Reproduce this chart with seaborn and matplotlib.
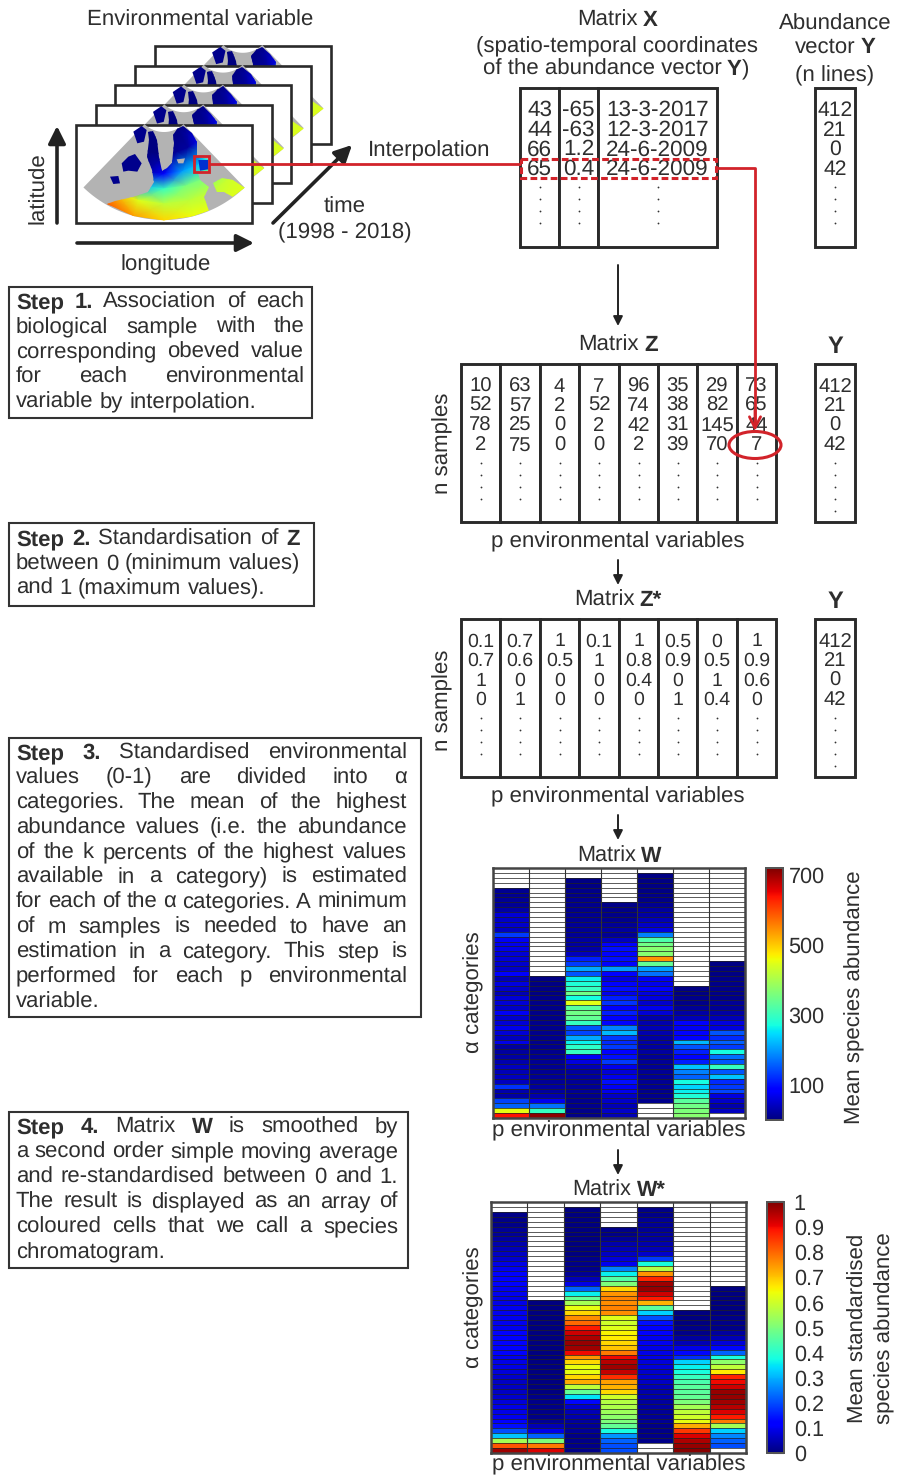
import matplotlib
matplotlib.use('Agg')
import matplotlib.pyplot as plt
from matplotlib.patches import Rectangle, Polygon, Ellipse
import seaborn as sns
import pandas as pd
import numpy as np

nan = np.nan

# Matrix W, one list per environmental variable, 51 categories top to bottom
w_col1 = [nan]*4 + [12, 12, 15, 15, 25, 55, 45, 50, 40, 130, 75, 70, 65, 55, 55, 50, 45, 80, 35, 60, 45, 35, 55, 55, 45, 75, 50,
                    55, 70, 55, 40, 65, 20, 20, 25, 30, 40, 35, 40, 40, 125, 30, 25, 135, 160, 450, 640]
w_col2 = [nan]*22 + [5, 5, 5, 5, 8, 8, 8, 8, 8, 10, 10, 10, 10, 10, 10, 10, 12, 12, 12, 12, 15, 15, 20, 20, 30, 70, 170, 300, 710]
w_col3 = [nan]*2 + [5, 5, 8, 8, 10, 10, 10, 12, 12, 15, 15, 15, 20, 20, 25, 40, 110, 130, 210, 150, 260, 280, 300, 350, 270,
                    450, 330, 350, 340, 300, 150, 140, 210, 260, 290, 300, 75, 60, 35, 20, 20, 15, 15, 15, 10, 10, 10, 8, 8]
w_col4 = [nan]*7 + [8, 8, 8, 10, 15, 20, 15, 40, 80, 100, 80, 100, 80, 200, 90, 60, 90, 100, 70, 110, 125, 85, 110, 85, 90,
                    180, 220, 130, 120, 130, 80, 100, 130, 70, 55, 70, 100, 75, 70, 45, 45, 35, 45, 35]
w_col5 = [nan] + [5, 5, 5, 5, 8, 8, 12, 20, 25, 35, 45, 60, 180, 320, 350, 370, 370, 540, 340, 200, 170, 75, 70, 80, 60, 60,
                  50, 70, 55, 30, 30, 35, 30, 25, 25, 20, 20, 15, 15, 15, 15, 15, 12, 12, 10, 10, 10] + [nan]*3
w_col6 = [nan]*24 + [5, 5, 8, 8, 15, 25, 35, 80, 75, 85, 80, 220, 150, 110, 90, 110, 230, 180, 160, 270, 240, 260, 280, 330, 350, 360, 370]
w_col7 = [nan]*19 + [5, 5, 5, 8, 8, 8, 8, 8, 15, 15, 25, 35, 60, 60, 150, 120, 160, 130, 270, 170, 150, 300, 150, 230,
                     120, 130, 140, 60, 45, 30, 40, nan]

# Matrix W*, smoothed and re-standardised
ws_col1 = [nan]*2 + [.01, .01, .01, .02, .02, .03, .04, .05, .06, .07, .09, .1, .11, .11, .11, .1, .1, .09, .09, .1, .1, .1, .1,
                     .1, .11, .11, .11, .11, .11, .1, .09, .09, .08, .07, .06, .06, .06, .07, .08, .09, .09, .1, .11, .14, .2, .32, .55, .82, .97]
ws_col2 = [nan]*20 + [.0, .0, .0, .0, .0, .0, .0, .0, .0, .0, .0, .0, .0, .0, .0, .0, .0, .0, .0, .01, .01, .01, .01, .01,
                      .02, .05, .09, .22, .5, .78, .92]
ws_col3 = [nan] + [.0, .0, .0, .0, .0, .0, .0, .0, .0, .0, .01, .01, .01, .02, .05, .09, .22, .36, .47, .55, .63, .68, .76, .8, .88,
                   .93, .96, .98, .97, .9, .75, .68, .63, .63, .68, .73, .58, .47, .35, .13, .07, .05, .04, .03, .02, .02, .01, .01, .01, .01]
ws_col4 = [nan]*5 + [.01, .01, .02, .04, .05, .06, .08, .1, .25, .36, .45, .5, .68, .75, .77, .76, .77, .76, .62, .6, .62, .65, .66, .68, .7,
                     .78, .9, .95, .97, .94, .86, .74, .72, .68, .6, .57, .56, .54, .52, .5, .47, .38, .27, .22, .2, .2]
ws_col5 = [nan] + [.01, .01, .02, .02, .02, .03, .03, .04, .05, .07, .18, .38, .57, .75, .87, .97, .98, .93, .88, .72, .46, .33, .2, .14, .12,
                   .11, .1, .1, .09, .09, .09, .08, .08, .07, .07, .06, .05, .04, .04, .03, .03, .02, .02, .02, .01, .01, .01, .01] + [nan]*2
ws_col6 = [nan]*22 + [.0, .0, .0, .01, .01, .03, .05, .09, .13, .17, .33, .36, .38, .42, .44, .46, .46, .47, .5, .55, .58, .6, .63, .73, .85,
                      .92, .96, .98, .99]
ws_col7 = [nan]*17 + [.0, .0, .0, .0, .0, .0, .01, .01, .01, .03, .05, .08, .13, .22, .38, .52, .58, .66, .87, .9, .93, .98, .98, .97, .95,
                      .92, .88, .78, .55, .33, .26, .22, .2, nan]

w_ticks = [100, 200, 300, 400, 500, 600, 700]
w_tick_labels = ['100', '', '300', '', '500', '', '700']
ws_ticks = [0, .1, .2, .3, .4, .5, .6, .7, .8, .9, 1]
ws_tick_labels = ['0', '0.1', '0.2', '0.3', '0.4', '0.5', '0.6', '0.7', '0.8', '0.9', '1']

# Number tables
x_rows = [['43', '-65', '13-3-2017'], ['44', '-63', '12-3-2017'], ['66', '1.2', '24-6-2009'], ['65', '0.4', '24-6-2009']]
y_values = ['412', '21', '0', '42']
z_rows = [['10', '63', '4', '7', '96', '35', '29', '73'],
          ['52', '57', '2', '52', '74', '38', '82', '65'],
          ['78', '25', '0', '2', '42', '31', '145', '44'],
          ['2', '75', '0', '0', '2', '39', '70', '7']]
zs_rows = [['0.1', '0.7', '1', '0.1', '1', '0.5', '0', '1'],
           ['0.7', '0.6', '0.5', '1', '0.8', '0.9', '0.5', '0.9'],
           ['1', '0', '0', '0', '0.4', '0', '1', '0.6'],
           ['0', '1', '0', '0', '0', '1', '0.4', '0']]

# Sea surface field of the little map (radius rows, angle columns)
map_radius = [28, 50, 70, 85, 100, 116]
map_angle = [-44, -29, -15, 0, 15, 29, 44]
map_field = [[.0, .0, .0, .0, .0, .0, .0],
             [.0, .0, .0, .0, .02, .03, .1],
             [.0, .0, .03, .12, .28, .32, .4],
             [.04, .12, .3, .42, .5, .5, .52],
             [.35, .7, .62, .58, .58, .58, .6],
             [.65, .82, .74, .68, .64, .62, .62]]
ocean_outline = [(320, 612), (345, 602), (400, 590), (445, 575), (462, 545), (455, 510), (442, 470), (448, 420), (445, 395),
                 (460, 392), (472, 420), (478, 470), (486, 512), (500, 505), (516, 490), (522, 430), (518, 405), (532, 388),
                 (550, 378), (575, 400), (592, 425), (590, 470), (625, 478), (628, 512), (595, 518), (600, 540), (628, 562),
                 (612, 592), (628, 632), (570, 652), (490, 662), (400, 648)]
med_outline = [(640, 550), (665, 535), (700, 540), (735, 565), (700, 592), (672, 575), (650, 575)]
bay_outline = [(365, 490), (385, 470), (405, 462), (425, 490), (412, 515), (385, 512), (370, 515)]
isle_outlines = [[(400, 395), (425, 378), (440, 390), (432, 425), (412, 430)], [(330, 530), (355, 528), (360, 550), (340, 552)]]
north_sea_outline = [(595, 480), (625, 480), (625, 508), (600, 512)]
iceland_outline = [(530, 478), (555, 475), (550, 490), (535, 490)]

step1 = ['*Step *1. Association of each', 'biological sample with the', 'corresponding obeved value',
         'for each environmental', 'variable by interpolation.']
step2 = ['*Step *2. Standardisation of *Z', 'between 0 (minimum values)', 'and 1 (maximum values).']
step3 = ['*Step *3. Standardised environmental', 'values (0-1) are divided into α', 'categories. The mean of the highest',
         'abundance values (i.e. the abundance', 'of the k percents of the highest values',
         'available in a category) is estimated', 'for each of the α categories. A minimum',
         'of m samples is needed to have an', 'estimation in a category. This step is',
         'performed for each p environmental', 'variable.']
step4 = ['*Step *4. Matrix *W is smoothed by', 'a second order simple moving average',
         'and re-standardised between 0 and 1.', 'The result is displayed as an array of',
         'coloured cells that we call a species', 'chromatogram.']

INK = '#2e2e2e'
RED = '#d2232a'
W, H = 909, 1475
FS = 16.05
STEP_FS = 15.9
BASE = 4.5  # centre of a line to its baseline, in pixels

sns.set_theme(style='white')
plt.rcParams['font.family'] = ['Liberation Sans', 'DejaVu Sans']
plt.rcParams['text.color'] = INK
plt.rcParams['text.hinting'] = 'no_hinting'

fig = plt.figure(figsize=(W / 100, H / 100), dpi=100)
pg = fig.add_axes([0, 0, 1, 1], zorder=5)
pg.set_xlim(0, W)
pg.set_ylim(H, 0)
pg.axis('off')
pg.patch.set_alpha(0)


def px_axes(x0, y0, x1, y1):
    return fig.add_axes([x0 / W, 1 - y1 / H, (x1 - x0) / W, (y1 - y0) / H])


def label(x, y, s, size=FS, **kw):
    kw.setdefault('ha', 'center')
    kw.setdefault('va', 'center')
    if kw.get('rotation') == 90:
        x += 1.5
    else:
        y += 1.5
    return pg.text(x, y, s, fontsize=size, color=INK, **kw)


def mixed(cx, y, parts, size=FS):
    # a centred line with bold pieces; numbers in parts are gaps in pixels
    rend = fig.canvas.get_renderer()
    items = []
    total = 0
    for p in parts:
        if isinstance(p, str):
            a = label(0, y + BASE, p.lstrip('*'), size=size, ha='left', va='baseline',
                      fontweight='bold' if p.startswith('*') else 'normal')
            wd = a.get_window_extent(rend).width
            items.append((a, wd))
            total += wd
        else:
            items.append((None, p))
            total += p
    x = cx - total / 2
    for a, wd in items:
        if a is not None:
            a.set_x(x)
        x += wd


def arrow(p0, p1, color='#222222', lw=1.4, scale=14, zorder=6, style='-|>'):
    pg.annotate('', xy=p1, xytext=p0, zorder=zorder,
                arrowprops=dict(arrowstyle=style, color=color, lw=lw, mutation_scale=scale, shrinkA=0, shrinkB=0))


def justified(lines, x0, x1, y0, step, size=STEP_FS):
    # place word by word, so each line reaches the right margin
    rend = fig.canvas.get_renderer()
    for n, line in enumerate(lines):
        words = line.split(' ')
        arts = []
        for w in words:
            bold = w.startswith('*')
            arts.append(label(0, y0 + n * step + BASE, w.lstrip('*'), size=size, ha='left', va='baseline',
                              fontweight='bold' if bold else 'normal'))
        widths = [a.get_window_extent(rend).width for a in arts]
        gap = (x1 - x0 - sum(widths)) / max(len(words) - 1, 1)
        if n == len(lines) - 1:
            gap = size * 0.4
        x = x0
        for a, wd in zip(arts, widths):
            a.set_x(x)
            x += wd + gap


def step_box(x0, y0, x1, y1):
    pg.add_patch(Rectangle((x0, y0), x1 - x0, y1 - y0, fc='white', ec='#333333', lw=1.5))


def number_table(edges, top, bottom, rows, ndots=4, size=FS):
    for a, b in zip(edges[:-1], edges[1:]):
        pg.add_patch(Rectangle((a, top), b - a, bottom - top, fc='white', ec='#2a2a2a', lw=2.1))
    for i, row in enumerate(rows):
        for j, s in enumerate(row):
            label((edges[j] + edges[j + 1]) / 2, top + 21 + i * 19.6, s, size=size)
    for j in range(len(edges) - 1):
        mid = (edges[j] + edges[j + 1]) / 2
        pg.plot([mid] * ndots, [top + 99 + k * 12 for k in range(ndots)], ls='none', marker='o', ms=1.3, mew=0, color='#333333')


def draw_map(dx, dy, z):
    left, top = 76 + dx, 125 + dy
    pg.add_patch(Rectangle((left, top), 176, 98, fc='white', ec='#2a2a2a', lw=1.9, zorder=z))
    cx, cy = 164 + dx, 104 + dy
    t = np.radians(np.linspace(-44, 44, 60))
    outer = np.c_[cx + 116 * np.sin(t), cy + 116 * np.cos(t)]
    inner = np.c_[cx + 28 * np.sin(t[::-1]), cy + 28 * np.cos(t[::-1])]
    pg.add_patch(Polygon(np.r_[outer, inner], fc='#b3b3b3', ec='none', zorder=z + .1))
    rr, aa = np.meshgrid(map_radius, np.radians(map_angle), indexing='ij')
    xx, yy = cx + rr * np.sin(aa), cy + rr * np.cos(aa)
    for outline in (ocean_outline, med_outline):
        clip = Polygon(np.array(outline) / 3 + [dx, dy], fc='none', ec='none', zorder=z + .1)
        pg.add_patch(clip)
        mesh = pg.pcolormesh(xx, yy, np.array(map_field), cmap='jet', vmin=0, vmax=1, shading='gouraud', zorder=z + .2)
        mesh.set_clip_path(clip)
    for outline in [bay_outline] + isle_outlines:
        pg.add_patch(Polygon(np.array(outline) / 3 + [dx, dy], fc='#00008c', ec='none', zorder=z + .3))
    pg.add_patch(Polygon(np.array(north_sea_outline) / 3 + [dx, dy], fc='#0030d0', ec='none', zorder=z + .3))
    pg.add_patch(Polygon(np.array(iceland_outline) / 3 + [dx, dy], fc='#b3b3b3', ec='none', zorder=z + .3))


def chromatogram(cols, box, cbox, vmax, ticks, tick_labels, pad):
    ax = px_axes(*box)
    cax = px_axes(*cbox)
    df = pd.DataFrame({f'v{i}': c for i, c in enumerate(cols)})
    sns.heatmap(df, ax=ax, cbar_ax=cax, cmap='jet', vmin=0, vmax=vmax, xticklabels=False, yticklabels=False)
    # the grid also runs over the empty cells
    ax.hlines(range(1, len(df)), 0, df.shape[1], color='#222222', lw=.7, alpha=.75)
    ax.vlines(range(1, df.shape[1]), 0, len(df), color='#333333', lw=.8)
    for sp in ax.spines.values():
        sp.set_visible(True)
        sp.set_color('#444444')
        sp.set_linewidth(1.8)
    cb = ax.collections[0].colorbar
    cb.set_ticks(ticks, labels=tick_labels)
    cb.minorticks_off()
    cax.tick_params(axis='y', direction='in', length=8, width=1.5, color='#333333', pad=pad, labelsize=15.6,
                    labelcolor=INK, right=True)
    for sp in cax.spines.values():
        sp.set_visible(True)
        sp.set_color('#555555')
        sp.set_linewidth(1.4)
    cb.outline.set_edgecolor('#555555')
    cb.outline.set_linewidth(1.4)
    return ax


# map stack, back to front
for k in (4, 3, 2, 1, 0):
    draw_map(k * 19.7, -k * 19.8, 1 + (4 - k))
pg.add_patch(Rectangle((194, 156), 15, 16, fc='none', ec=RED, lw=2, zorder=7))
label(200, 19, 'Environmental variable')
label(37, 188, 'latitude', rotation=90)
label(166, 263, 'longitude')
label(345, 206, 'time')
label(345, 231, '(1998 - 2018)')
label(429, 149, 'Interpolation')
arrow((57, 223), (57, 126), lw=2.6, scale=26)
arrow((77, 243), (254, 243), lw=2.6, scale=26)
arrow((273, 223), (352, 145), lw=2.6, scale=26)

# matrix X and Y
mixed(617, 20, ['Matrix', 5, '*X'])
label(617, 45, '(spatio-temporal coordinates')
mixed(616, 69, ['of the abundance vector', 5, '*Y', ')'])
label(835, 23, 'Abundance')
mixed(835, 47, ['vector', 5, '*Y'])
label(835, 74, '(n lines)')
number_table([520, 559, 598, 717], 88, 247, x_rows, size=16.2)
number_table([815, 855], 88, 247, [[v] for v in y_values], size=15.2)
pg.add_patch(Rectangle((521, 159), 195, 19, fc='none', ec=RED, lw=2.2, ls=(0, (2.2, 1.1)), zorder=7))
pg.plot([209, 521], [164, 164], color=RED, lw=2, zorder=7, solid_capstyle='butt')
pg.plot([716, 755, 755], [168, 168, 425], color=RED, lw=2, zorder=7)
arrow((755, 410), (755, 431), color=RED, lw=2, scale=20, zorder=7, style='->')
arrow((618, 265), (618, 326))

# matrix Z
z_edges = [461, 500, 540, 579, 619, 658, 697, 737, 776]
mixed(618, 345, ['Matrix', 5, '*Z'])
label(835, 345, 'Y', fontweight='bold', size=17)
number_table(z_edges, 364, 522, z_rows, size=14.6)
number_table([815, 855], 364, 522, [[v] for v in y_values], ndots=5, size=14.6)
label(441, 443, 'n samples', rotation=90)
label(618, 540, 'p environmental variables')
pg.add_patch(Ellipse((755, 445), 52, 27, fc='none', ec=RED, lw=2.2, zorder=7))
arrow((618, 560), (618, 585))

# matrix Z*
mixed(618, 600, ['Matrix', 5, '*Z*'])
label(835, 600, 'Y', fontweight='bold', size=17)
number_table(z_edges, 619, 777, zs_rows, size=14)
number_table([815, 855], 619, 777, [[v] for v in y_values], ndots=5, size=14.6)
label(441, 700, 'n samples', rotation=90)
label(618, 795, 'p environmental variables')
arrow((618, 815), (618, 840))

# matrix W
chromatogram([w_col1, w_col2, w_col3, w_col4, w_col5, w_col6, w_col7], (493, 868, 745, 1118), (766, 868, 783, 1120),
             720, w_ticks, w_tick_labels, 4)
mixed(619, 856, ['Matrix', 5, '*W'], size=15.6)
label(472, 992, 'α categories', rotation=90)
label(853, 997, 'Mean species abundance', rotation=90)
label(619, 1129, 'p environmental variables')
arrow((618, 1150), (618, 1175))

# matrix W*
chromatogram([ws_col1, ws_col2, ws_col3, ws_col4, ws_col5, ws_col6, ws_col7], (491, 1202, 746, 1453), (767, 1202, 784, 1453),
             1, ws_ticks, ws_tick_labels, 7)
mixed(619, 1190, ['Matrix', 5, '*W*'], size=15.6)
label(472, 1307, 'α categories', rotation=90)
label(857, 1328, 'Mean standardised', rotation=90)
label(883, 1328, 'species abundance', rotation=90)
label(619, 1463, 'p environmental variables')

# step boxes
step_box(9, 287, 312, 418)
justified(step1, 16, 304, 302, 25)
step_box(9, 523, 314, 606)
justified(step2, 16, 300, 539, 24.5)
step_box(9, 738, 421, 1017)
justified(step3, 16, 407, 753, 24.85)
step_box(9, 1112, 408, 1268)
justified(step4, 16, 398, 1127, 25)

fig.savefig('out.png', dpi=100)
plt.close(fig)
